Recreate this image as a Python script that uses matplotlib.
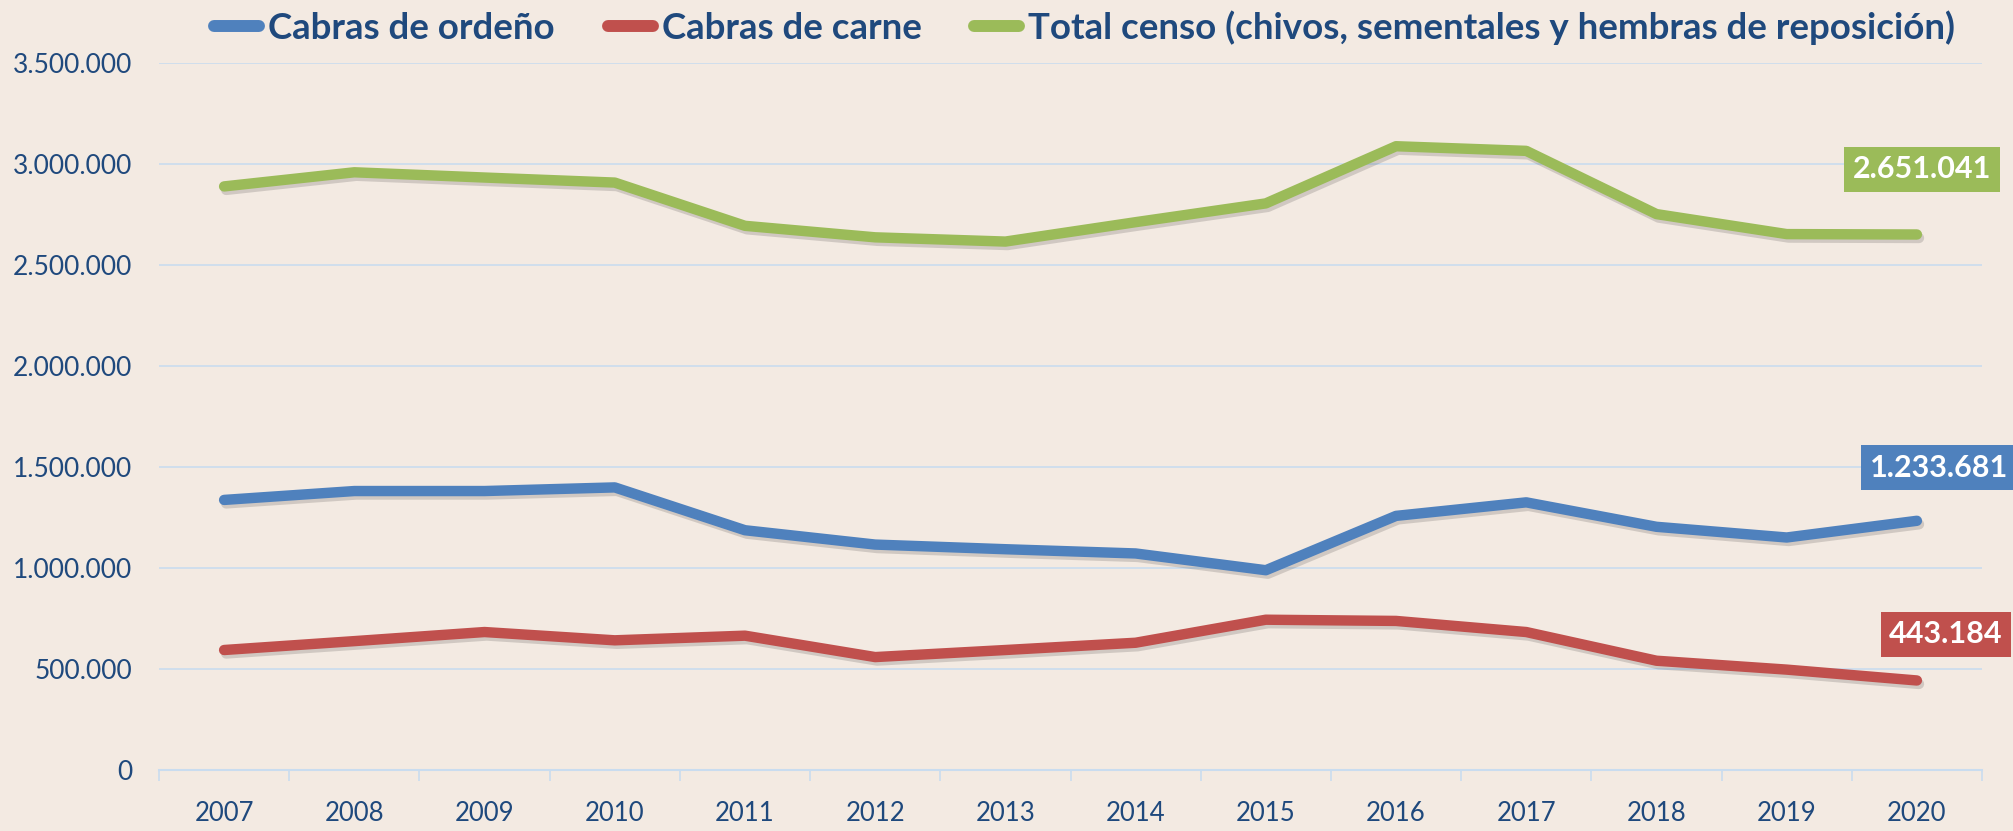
import matplotlib
matplotlib.use("Agg")
import matplotlib.pyplot as plt
import matplotlib.patheffects as pe
from matplotlib.lines import Line2D
from matplotlib.ticker import FixedLocator, FuncFormatter

# ---- data ----
years = ["2007", "2008", "2009", "2010", "2011", "2012", "2013",
         "2014", "2015", "2016", "2017", "2018", "2019", "2020"]
cabras_ordeno = [1337000, 1381000, 1381000, 1399000, 1187000, 1116000, 1093000,
                 1072000, 989000, 1258000, 1325000, 1204000, 1151000, 1233681]
cabras_carne = [594000, 638000, 683000, 642000, 665000, 559000, 594000,
                630000, 744000, 738000, 683000, 541000, 497000, 443184]
total_censo = [2889000, 2959000, 2933000, 2908000, 2694000, 2637000, 2616000,
               2712000, 2805000, 3088000, 3065000, 2752000, 2653000, 2651041]
series_names = ["Cabras de ordeño", "Cabras de carne",
                "Total censo (chivos, sementales y hembras de reposición)"]
y_ticks = [0, 500000, 1000000, 1500000, 2000000, 2500000, 3000000, 3500000]

# ---- style ----
BG = "#F3EAE2"
NAVY = "#1F497D"
GRID = "#C9DCEF"
colors = ["#4F81BD", "#C0504D", "#9BBB59"]
FONT = "Lato"

def es_fmt(v, pos=None):
    return f"{v:,.0f}".replace(",", ".")

fig = plt.figure(figsize=(20.13, 8.31), dpi=100, facecolor=BG)
ax = fig.add_axes([159 / 2013, 61 / 831, 1823 / 2013, 707 / 831])
ax.set_facecolor(BG)

x = list(range(len(years)))
all_series = [cabras_ordeno, cabras_carne, total_censo]
shadow = [pe.SimpleLineShadow(offset=(1.5, -2.5), shadow_color="#000000", alpha=0.14),
          pe.Normal()]
for vals, c, name in zip(all_series, colors, series_names):
    ln, = ax.plot(x, vals, color=c, lw=7.5, solid_capstyle="round",
                  solid_joinstyle="round", label=name, zorder=3)
    ln.set_path_effects(shadow)

ax.set_xlim(-0.5, len(years) - 0.5)
ax.set_ylim(0, 3500000)

ax.yaxis.set_major_locator(FixedLocator(y_ticks))
ax.yaxis.set_major_formatter(FuncFormatter(es_fmt))
ax.grid(axis="y", color=GRID, lw=1.2, zorder=0)
ax.set_axisbelow(True)

ax.set_xticks(x)
ax.set_xticklabels(years)
ax.set_xticks([i - 0.5 for i in range(len(years) + 1)], minor=True)
ax.tick_params(axis="x", which="major", length=0, pad=22, labelsize=18.5,
               labelcolor=NAVY)
ax.tick_params(axis="x", which="minor", length=8, width=1.2, color=GRID)
ax.tick_params(axis="y", length=0, pad=19, labelsize=19, labelcolor=NAVY)
for lab in ax.get_xticklabels() + ax.get_yticklabels():
    lab.set_fontfamily(FONT)

for s in ["top", "right", "left"]:
    ax.spines[s].set_visible(False)
ax.spines["bottom"].set_color(GRID)
ax.spines["bottom"].set_linewidth(1.5)

# ---- end labels ----
offsets = [(22, 53), (29, 46), (5, 65)]
for vals, c, off in zip(all_series, colors, offsets):
    ax.annotate(es_fmt(vals[-1]), xy=(x[-1], vals[-1]), xytext=off,
                textcoords="offset pixels", ha="center", va="center",
                fontsize=22, fontweight="bold", color="white", fontfamily=FONT,
                bbox=dict(boxstyle="square,pad=0.28", fc=c, ec="none"),
                zorder=5, annotation_clip=False)

# ---- legend ----
handles = [Line2D([0], [0], color=c, lw=8.6, solid_capstyle="round") for c in colors]
leg = fig.legend(handles, series_names, loc="center left",
                 bbox_to_anchor=(214 / 2013, 1 - 28 / 831), ncol=3, frameon=False,
                 borderpad=0, borderaxespad=0, handlelength=1.23,
                 handletextpad=0.245, columnspacing=1.44,
                 prop=dict(family=FONT, weight="bold", size=26.4))
for t in leg.get_texts():
    t.set_color(NAVY)

fig.savefig("out.png", dpi=100, facecolor=BG)
